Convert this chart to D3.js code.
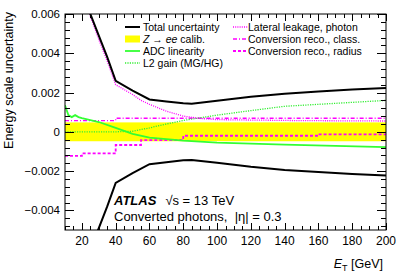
<!DOCTYPE html>
<html>
<head>
<meta charset="utf-8">
<script src="https://cdn.jsdelivr.net/npm/d3@7"></script>
<style>
  body { margin: 0; background: #fff; }
  text { font-family: "Liberation Sans", Arial, sans-serif; }
</style>
</head>
<body>
<div id="chart"></div>
<script>
// values (fraction), E_T in GeV
var totalE   = [20, 25, 30, 35, 40, 50, 60, 70, 80, 85, 100, 120, 140, 160, 180, 200];
var totalVal = [0.0081, 0.0060, 0.0049, 0.0038, 0.0026, 0.0021, 0.00165, 0.00155, 0.00145, 0.00143, 0.00158, 0.00178, 0.00194, 0.00205, 0.00215, 0.00223];

var zeeBand = 0.00048;

var adcE   = [10, 12, 14, 16, 18, 20, 25, 30, 40, 50, 60, 80, 100, 140, 200];
var adcVal = [0.00135, 0.00085, 0.00075, 0.00085, 0.00075, 0.0007, 0.0006, 0.0005, 0.0002, -0.0001, -0.0003, -0.00045, -0.00055, -0.00065, -0.00078];

var l2E   = [10, 40, 50, 60, 70, 80, 100, 120, 140, 160, 180, 200];
var l2Val = [0, 0, 0.00003, 0.0002, 0.0004, 0.00058, 0.00085, 0.00108, 0.0013, 0.0014, 0.0015, 0.0016];

var latE   = [20, 25, 30, 35, 40, 50, 55, 60, 70, 80, 90, 100, 150, 200];
var latVal = [0.0080, 0.0059, 0.0047, 0.0036, 0.0024, 0.0019, 0.0016, 0.0014, 0.00105, 0.0008, 0.00068, 0.00062, 0.00057, 0.00055];

var classE   = [10, 40, 40, 200];
var classVal = [0.00057, 0.00057, 0.00069, 0.00069];

var radE   = [10, 20, 20, 40, 40, 55, 55, 80, 80, 160, 160, 200];
var radVal = [-0.00122, -0.00122, -0.0011, -0.0011, -0.00067, -0.00067, -0.00042, -0.00042, -0.0002, -0.0002, -0.00013, -0.00013];

var xTicks = [20, 40, 60, 80, 100, 120, 140, 160, 180, 200];
var yTicks = [-0.004, -0.002, 0, 0.002, 0.004, 0.006];

var W = 407, H = 276;
var m = { top: 14, right: 21, bottom: 46, left: 65 };
var w = W - m.left - m.right, h = H - m.top - m.bottom;

var svg = d3.select("#chart").append("svg").attr("width", W).attr("height", H);
var g = svg.append("g").attr("transform", "translate(" + m.left + "," + m.top + ")");

var x = d3.scaleLinear().domain([10, 200]).range([0, w]);
var y = d3.scaleLinear().domain([-0.005, 0.006]).range([h, 0]);

g.append("clipPath").attr("id", "clip").append("rect").attr("width", w).attr("height", h);
var plot = g.append("g").attr("clip-path", "url(#clip)");

// Z->ee band
plot.append("rect")
  .attr("x", x(10)).attr("width", x(200) - x(10))
  .attr("y", y(zeeBand)).attr("height", y(-zeeBand) - y(zeeBand))
  .attr("fill", "#ffff00");

function pts(xs, ys, sign) {
  return xs.map(function (e, i) { return [e, (sign || 1) * ys[i]]; });
}
var line = d3.line().x(function (d) { return x(d[0]); }).y(function (d) { return y(d[1]); });

var styles = {
  total: { stroke: "#000", width: 2, dash: null },
  adc:   { stroke: "#33ff33", width: 1.8, dash: null },
  l2:    { stroke: "#33ee33", width: 1.3, dash: "1.2,1.2" },
  lat:   { stroke: "#ff00ff", width: 1.3, dash: "1,1.2" },
  cls:   { stroke: "#ff00ff", width: 1.3, dash: "4,2,1,2" },
  rad:   { stroke: "#ff00ff", width: 1.8, dash: "3,2" }
};

function draw(data, s) {
  var p = plot.append("path").datum(data).attr("fill", "none")
    .attr("stroke", s.stroke).attr("stroke-width", s.width).attr("d", line);
  if (s.dash) p.attr("stroke-dasharray", s.dash);
}

draw(pts(classE, classVal), styles.cls);
draw(pts(radE, radVal), styles.rad);
draw(pts(l2E, l2Val), styles.l2);
draw(pts(adcE, adcVal), styles.adc);
draw(pts(latE, latVal), styles.lat);
draw(pts(totalE, totalVal), styles.total);
draw(pts(totalE, totalVal, -1), styles.total);

// frame and ticks (ROOT style, inside, all sides)
g.append("rect").attr("width", w).attr("height", h).attr("fill", "none").attr("stroke", "#000").attr("stroke-width", 1);

var ticks = g.append("g").attr("stroke", "#000").attr("stroke-width", 1);
d3.range(10, 200.1, 5).forEach(function (v) {
  var major = v % 20 === 0;
  var L = major ? 7 : 4;
  var xx = Math.round(x(v)) + 0.5;
  ticks.append("line").attr("x1", xx).attr("x2", xx).attr("y1", h).attr("y2", h - L);
  ticks.append("line").attr("x1", xx).attr("x2", xx).attr("y1", 0).attr("y2", L);
});
d3.range(-0.0048, 0.00601, 0.0004).forEach(function (v) {
  var major = Math.abs(Math.round(v / 0.002) * 0.002 - v) < 1e-7;
  var L = major ? 9 : 5;
  var yy = Math.round(y(v)) + 0.5;
  ticks.append("line").attr("x1", 0).attr("x2", L).attr("y1", yy).attr("y2", yy);
  ticks.append("line").attr("x1", w).attr("x2", w - L).attr("y1", yy).attr("y2", yy);
});

g.selectAll(".xl").data(xTicks).enter().append("text")
  .attr("x", function (d) { return x(d); }).attr("y", h + 15)
  .attr("text-anchor", "middle").attr("font-size", "12px").text(function (d) { return d; });

g.selectAll(".yl").data(yTicks).enter().append("text")
  .attr("x", -5).attr("y", function (d) { return y(d) + 4; })
  .attr("text-anchor", "end").attr("font-size", "11.5px")
  .text(function (d) { return d === 0 ? "0" : d3.format(".3f")(d).replace("-", "\u2212"); });

// axis titles
var xt = svg.append("text").attr("x", 383).attr("y", 268).attr("text-anchor", "end").attr("font-size", "12.5px");
xt.append("tspan").attr("font-style", "italic").text("E");
xt.append("tspan").attr("font-size", "9px").attr("dy", 3).text("T");
xt.append("tspan").attr("dy", -3).text(" [GeV]");

svg.append("text").attr("transform", "translate(13," + (m.top - 2) + ") rotate(-90)")
  .attr("text-anchor", "end").attr("font-size", "12.5px").text("Energy scale uncertainty");

// legend
var leg = g.append("g").attr("font-size", "10.5px");
function legLine(x0, yy, s) {
  var p = leg.append("line").attr("x1", x0).attr("x2", x0 + 15).attr("y1", yy).attr("y2", yy)
    .attr("stroke", s.stroke).attr("stroke-width", s.width);
  if (s.dash) p.attr("stroke-dasharray", s.dash);
}
var lx1 = 60, lx2 = 168, ly = [13, 25, 37, 49];
legLine(lx1, ly[0], styles.total);
leg.append("rect").attr("x", lx1).attr("y", ly[1] - 3.5).attr("width", 15).attr("height", 7).attr("fill", "#ffff00");
legLine(lx1, ly[2], styles.adc);
legLine(lx1, ly[3], styles.l2);
leg.append("text").attr("x", lx1 + 18).attr("y", ly[0] + 4).text("Total uncertainty");
var z = leg.append("text").attr("x", lx1 + 18).attr("y", ly[1] + 4);
z.append("tspan").attr("font-style", "italic").text("Z");
z.append("tspan").text(" \u2192 ");
z.append("tspan").attr("font-style", "italic").text("ee");
z.append("tspan").text(" calib.");
leg.append("text").attr("x", lx1 + 18).attr("y", ly[2] + 4).text("ADC linearity");
leg.append("text").attr("x", lx1 + 18).attr("y", ly[3] + 4).text("L2 gain (MG/HG)");

legLine(lx2, ly[0], styles.lat);
legLine(lx2, ly[1], styles.cls);
legLine(lx2, ly[2], styles.rad);
leg.append("text").attr("x", lx2 + 15).attr("y", ly[0] + 4).text("Lateral leakage, photon");
leg.append("text").attr("x", lx2 + 15).attr("y", ly[1] + 4).text("Conversion reco., class.");
leg.append("text").attr("x", lx2 + 15).attr("y", ly[2] + 4).text("Conversion reco., radius");

// ATLAS label
var at = svg.append("text").attr("x", 114).attr("y", 205).attr("font-size", "13px");
at.append("tspan").attr("font-weight", "bold").attr("font-style", "italic").text("ATLAS");
at.append("tspan").attr("dx", 9).text("\u221As = 13 TeV");
svg.append("text").attr("x", 114).attr("y", 221).attr("font-size", "13px")
  .attr("xml:space", "preserve").style("white-space", "pre")
  .text("Converted photons,  |\u03b7| = 0.3");
</script>
</body>
</html>
